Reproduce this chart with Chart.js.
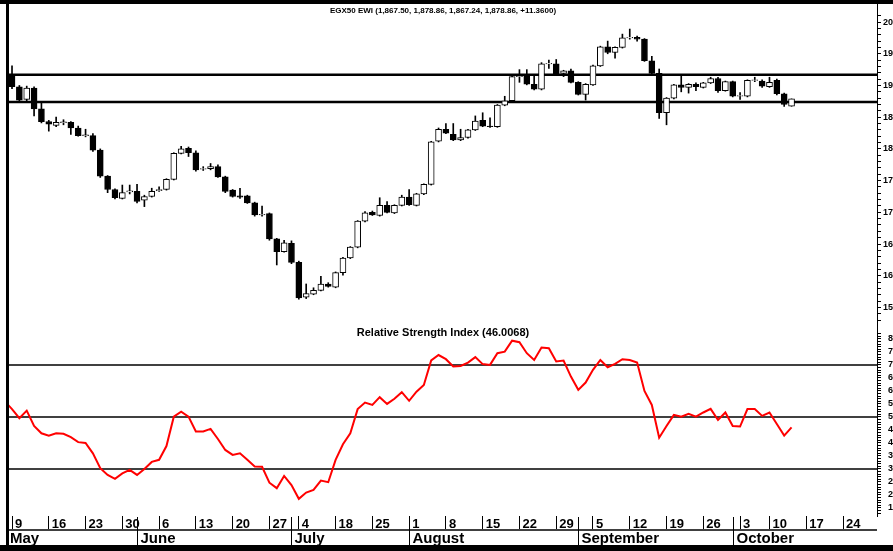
<!DOCTYPE html>
<html lang="en">
<head>
<meta charset="UTF-8">
<title>EGX50 EWI - Candles and RSI</title>
<script src="https://cdn.jsdelivr.net/npm/chart.js"></script>
<style>
    body {
        margin: 0;
        background: #fff;
    }
    #wrap {
        position: relative;
        width: 893px;
        height: 551px;
        overflow: hidden;
        background: #fff;
    }
    #priceChart, #rsiChart {
        position: absolute;
        left: 0;
    }
    #priceChart { top: 0; }
    #rsiChart { top: 322px; }
    .frame-top { position: absolute; left: 0; top: 0; width: 893px; height: 4px; background: #000; }
    .frame-left { position: absolute; left: 6px; top: 0; width: 3px; height: 551px; background: #000; }
    .frame-bottom { position: absolute; left: 0; top: 545px; width: 893px; height: 6px; background: #000; }
</style>
</head>
<body>
<div id="wrap">
    <canvas id="priceChart" width="893" height="329"></canvas>
    <canvas id="rsiChart" width="893" height="229"></canvas>
    <div class="frame-top"></div>
    <div class="frame-left"></div>
    <div class="frame-bottom"></div>
</div>
<script>
// daily candles, session 1 = May 9
const opens = [
    1915, 1898, 1878, 1896, 1863,   1843, 1837, 1841.5, 1842, 1833,
    1821, 1821, 1798, 1757, 1736,   1722, 1732, 1733, 1719, 1725,
    1734, 1736, 1752, 1793, 1801,   1794, 1768, 1769, 1772, 1756,
    1735, 1726, 1726, 1715, 1696,   1698, 1658, 1638, 1651,
    1621, 1566, 1571, 1577, 1587,   1582, 1605, 1628, 1645, 1686,
    1700, 1695, 1711, 1699, 1711,   1724, 1711, 1729, 1744, 1812,
    1831, 1823, 1814, 1818, 1830,   1845, 1836, 1835, 1869, 1876,
    1914, 1915, 1902, 1894, 1934,   1934, 1919, 1923, 1905, 1886,
    1901, 1931, 1961, 1952, 1960,   1975, 1976, 1973, 1939, 1919,
    1857, 1880, 1901, 1897, 1902,   1897, 1904, 1911, 1892, 1906,
    1883, 1883, 1908, 1907,         1898, 1908, 1887, 1867.50
];
const highs = [
    1931, 1900, 1899, 1898, 1872,   1845, 1850, 1846, 1843, 1836,
    1831, 1824, 1800, 1758, 1737,   1743, 1743, 1744, 1727, 1738,
    1740, 1753, 1794, 1804, 1803,   1797, 1772, 1777, 1775, 1757,
    1736, 1738, 1727, 1716, 1710,   1699, 1659, 1656, 1655,
    1623, 1587, 1581, 1599, 1589,   1606, 1629, 1646, 1687, 1701,
    1702, 1723, 1717, 1712, 1727,   1736, 1730, 1745, 1812, 1833,
    1840, 1840, 1831, 1831, 1852,   1857, 1849, 1870, 1883, 1915,
    1925, 1925, 1917, 1936, 1940,   1941, 1924, 1926, 1906, 1903,
    1932, 1962, 1970, 1961, 1981,   1989, 1978, 1974, 1946, 1926,
    1881, 1902, 1915, 1903, 1904,   1905, 1913, 1913, 1907, 1907,
    1889, 1909, 1913, 1909,         1913, 1910, 1888, 1878.86
];
const lows = [
    1895, 1875, 1876, 1852, 1841,   1828, 1835, 1838, 1823, 1820,
    1819, 1796, 1755, 1731, 1721,   1721, 1729, 1715, 1709, 1724,
    1733, 1735, 1751, 1792, 1788,   1765, 1766, 1767, 1755, 1731,
    1724, 1722, 1714, 1694, 1694,   1656, 1617, 1637, 1619,
    1563, 1564, 1570, 1576, 1582,   1581, 1601, 1627, 1644, 1685,
    1695, 1694, 1699, 1698, 1710,   1711, 1710, 1728, 1743, 1811,
    1824, 1813, 1813, 1817, 1829,   1835, 1834, 1834, 1868, 1875,
    1905, 1901, 1893, 1893, 1927,   1917, 1914, 1904, 1885, 1877,
    1900, 1930, 1950, 1943, 1959,   1973, 1970, 1938, 1918, 1848,
    1838, 1879, 1890, 1888, 1892,   1896, 1903, 1889, 1891, 1882,
    1878, 1882, 1906, 1897,         1897, 1885, 1867, 1867.24
];
const closes = [
    1898, 1877, 1896, 1863, 1843,   1839, 1842, 1842.5, 1833, 1821,
    1822, 1798, 1757, 1736, 1723,   1731, 1734, 1717, 1725, 1733,
    1736, 1752, 1793, 1800, 1794,   1767, 1769, 1772, 1756, 1733,
    1725, 1724, 1715, 1696, 1697,   1658, 1638, 1652, 1621,
    1565, 1572, 1577, 1587, 1583,   1605, 1628, 1645, 1686, 1699,
    1696, 1711, 1700, 1711, 1724,   1712, 1729, 1744, 1811, 1831,
    1825, 1814, 1818, 1830, 1844,   1836, 1835, 1869, 1876, 1914,
    1915, 1902, 1894, 1934, 1935,   1918, 1923, 1905, 1886, 1902,
    1931, 1961, 1952, 1960, 1975,   1976, 1973, 1939, 1919, 1857,
    1880, 1901, 1897, 1902, 1898,   1904, 1911, 1892, 1906, 1883,
    1884, 1908, 1909, 1899,         1905, 1887, 1870, 1878.86
];
// horizontal levels drawn across the price panel
const priceLevels = [1917, 1874];

// RSI, first value is the session before May 9
const rsiValues = [
    56.0,
    53.0, 49.5, 52.4, 46.5, 43.7,   42.8, 43.7, 43.5, 42.2, 40.3,
    40.0, 36.0, 30.3, 27.7, 26.2,   28.3, 29.6, 27.7, 30.0, 32.7,
    33.5, 38.8, 50.1, 52.0, 50.1,   44.4, 44.4, 45.4, 41.5, 37.3,
    35.4, 36.0, 33.5, 30.9, 30.8,   24.7, 22.6, 27.3, 23.8,
    18.5, 20.9, 21.9, 25.5, 24.9,   33.5, 39.5, 43.7, 53.0, 55.5,
    54.6, 57.6, 55.0, 57.0, 59.5,   56.2, 59.7, 62.3, 71.7, 73.8,
    72.2, 69.4, 69.6, 70.9, 73.0,   70.3, 70.0, 74.5, 75.1, 79.3,
    78.7, 74.5, 71.9, 76.7, 76.4,   71.3, 71.7, 65.5, 60.4, 63.2,
    68.1, 71.9, 69.1, 70.4, 72.2,   71.9, 70.9, 60.0, 54.6, 42.0,
    46.5, 50.8, 50.1, 51.2, 50.1,   51.7, 53.1, 48.8, 51.7, 46.5,
    46.3, 53.0, 53.0, 50.4,         51.7, 47.3, 42.8, 46.0068
];
const rsiLevels = [70, 50, 30];

// week ticks (session number -> day of month) and month breaks
const weekTickDays = [1, 6, 11, 16, 21, 26, 31, 36, 40, 45, 50, 55, 60, 65, 70, 75, 80, 85, 90, 95, 100, 104, 109, 114];
const weekTickLabels = ['9', '16', '23', '30', '6', '13', '20', '27', '4', '18', '25', '1', '8', '15', '22', '29', '5', '12', '19', '26', '3', '10', '17', '24'];
const monthNames = ['May', 'June', 'July', 'August', 'September', 'October'];
const monthBreaks = [18, 39, 55, 78, 99];   // where June..October start

const priceTitle = 'EGX50 EWI (1,867.50, 1,878.86, 1,867.24, 1,878.86, +11.3600)';
const rsiTitle = 'Relative Strength Index (46.0068)';

const X_MIN = 0.59, X_MAX = 118.62;
const FONT = '"Liberation Sans", Arial, Helvetica, sans-serif';

const panelTitle = {
    id: 'panelTitle',
    afterDraw(chart, args, opts) {
        const { ctx, chartArea } = chart;
        ctx.save();
        ctx.font = 'bold ' + opts.size + 'px ' + FONT;
        ctx.fillStyle = '#000';
        ctx.textAlign = 'center';
        ctx.textBaseline = 'middle';
        ctx.fillText(opts.text, (chartArea.left + chartArea.right) / 2, chartArea.top + opts.dy);
        ctx.restore();
    }
};

const monthRow = {
    id: 'monthRow',
    afterDraw(chart) {
        const { ctx, chartArea, scales } = chart;
        const lineY = chartArea.bottom + 14;
        ctx.save();
        ctx.strokeStyle = '#000';
        ctx.fillStyle = '#000';
        ctx.lineWidth = 1.5;
        ctx.beginPath();
        ctx.moveTo(chartArea.left, lineY);
        ctx.lineTo(chartArea.right, lineY);
        ctx.stroke();
        ctx.font = 'bold 15px ' + FONT;
        ctx.textBaseline = 'middle';
        ctx.textAlign = 'left';
        ctx.fillText(monthNames[0], chartArea.left + 1, lineY + 9);
        monthBreaks.forEach((b, i) => {
            const px = Math.round(scales.x.getPixelForValue(b)) + 0.5;
            ctx.lineWidth = 1;
            ctx.beginPath();
            ctx.moveTo(px, chartArea.bottom + 1);
            ctx.lineTo(px, chart.height);
            ctx.stroke();
            ctx.fillText(monthNames[i + 1], px + 3, lineY + 9);
        });
        ctx.restore();
    }
};

function rightAxis(min, max, step, labelEvery, labelMin, labelMax, pad) {
    return {
        position: 'right',
        min: min,
        max: max,
        afterBuildTicks: axis => {
            axis.ticks = axis.ticks.filter(t => Math.abs(t.value / step - Math.round(t.value / step)) < 1e-6);
        },
        afterFit: axis => {
            axis.width = 16;
            axis.paddingTop = 0;
            axis.paddingBottom = 0;
        },
        ticks: {
            stepSize: step,
            autoSkip: false,
            padding: pad,
            color: '#000',
            font: { family: FONT, size: 9, weight: 'bold' },
            callback: v => (v % labelEvery === 0 && v >= labelMin && v <= labelMax) ? String(v) : ''
        },
        grid: { drawOnChartArea: false, tickLength: 4, tickColor: '#000', tickWidth: 1 },
        border: { display: true, color: '#000', width: 1 }
    };
}

const days = opens.map((o, i) => i + 1);
const bodies = days.map((d, i) => ({ x: d, y: [opens[i], closes[i]] }));
const wicks = days.map((d, i) => ({ x: d, y: [lows[i], highs[i]] }));
const bodyFill = days.map((d, i) => closes[i] >= opens[i] ? '#ffffff' : '#000000');

const levelSets = priceLevels.map(v => ({
    type: 'line',
    data: [{ x: X_MIN, y: v }, { x: X_MAX, y: v }],
    borderColor: '#000',
    borderWidth: 2.5,
    pointRadius: 0,
    order: 3
}));

new Chart(document.getElementById('priceChart'), {
    type: 'bar',
    data: {
        datasets: [
            {
                data: bodies,
                backgroundColor: bodyFill,
                borderColor: '#000',
                borderWidth: 1,
                borderSkipped: false,
                barThickness: 6,
                grouped: false,
                order: 0
            },
            {
                data: wicks,
                backgroundColor: '#000',
                borderWidth: 0,
                barThickness: 1,
                grouped: false,
                order: 1
            },
            ...levelSets
        ]
    },
    options: {
        responsive: false,
        animation: false,
        layout: { padding: { left: 9, top: 4, right: 0, bottom: 0 } },
        scales: {
            x: { type: 'linear', min: X_MIN, max: X_MAX, offset: false, display: false },
            y: rightAxis(1516, 2028.5, 10, 50, 1550, 2000, 2)
        },
        plugins: {
            legend: { display: false },
            tooltip: { enabled: false },
            panelTitle: { text: priceTitle, size: 8, dy: 7 }
        }
    },
    plugins: [panelTitle]
});

new Chart(document.getElementById('rsiChart'), {
    type: 'line',
    data: {
        datasets: [
            {
                data: rsiValues.map((v, i) => ({ x: i, y: v })),
                borderColor: '#ff0000',
                borderWidth: 2,
                pointRadius: 0,
                tension: 0,
                order: 0
            },
            ...rsiLevels.map(v => ({
                data: [{ x: X_MIN, y: v }, { x: X_MAX, y: v }],
                borderColor: '#000',
                borderWidth: 1.5,
                pointRadius: 0,
                order: 1
            }))
        ]
    },
    options: {
        responsive: false,
        animation: false,
        layout: { padding: { left: 9, top: 7, right: 0, bottom: 0 } },
        scales: {
            x: {
                type: 'linear',
                min: X_MIN,
                max: X_MAX,
                offset: false,
                afterBuildTicks: axis => { axis.ticks = weekTickDays.map(v => ({ value: v })); },
                afterFit: axis => {
                    axis.height = 35;
                    axis.paddingLeft = 0;
                    axis.paddingRight = 0;
                },
                ticks: {
                    autoSkip: false,
                    maxRotation: 0,
                    minRotation: 0,
                    align: 'start',
                    labelOffset: 3,
                    padding: -12,
                    color: '#000',
                    font: { family: FONT, size: 13, weight: 'bold' },
                    callback: (v, i) => weekTickLabels[i]
                },
                grid: { drawOnChartArea: false, tickLength: 13, tickColor: '#000', tickWidth: 1 },
                border: { display: false }
            },
            y: rightAxis(11.9, 83.8, 1, 5, 15, 80, 7)
        },
        plugins: {
            legend: { display: false },
            tooltip: { enabled: false },
            panelTitle: { text: rsiTitle, size: 11, dy: 4 }
        }
    },
    plugins: [panelTitle, monthRow]
});
</script>
</body>
</html>
